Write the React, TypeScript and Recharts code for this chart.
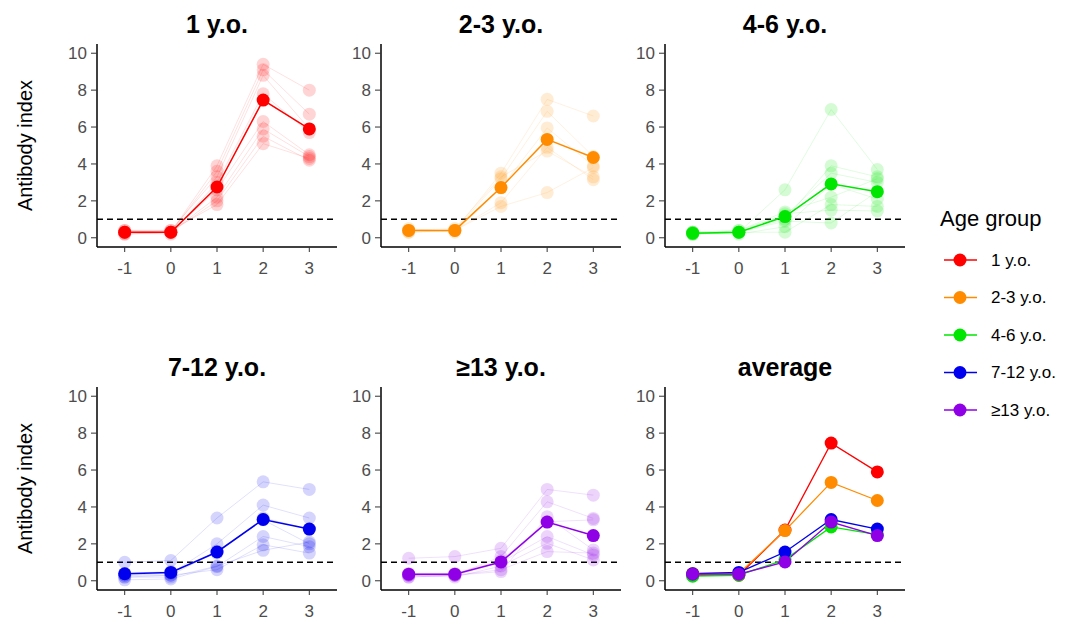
import React from 'react';
import { LineChart, Line, XAxis, YAxis, ReferenceLine } from 'recharts';

const timePoints = [-1, 0, 1, 2, 3];
const yTicks = [0, 2, 4, 6, 8, 10];
const threshold = 1;

const groupLabels = ['1 y.o.', '2-3 y.o.', '4-6 y.o.', '7-12 y.o.', '≥13 y.o.'];
const groupColors = ['#FF0000', '#FF8C00', '#00E600', '#0000EE', '#8F00E6'];

// individual subjects per age group, values at each time point
const age1Subjects = [
  [0.3, 0.3, 3.9, 9.4, 8.0],
  [0.2, 0.3, 3.6, 9.1, 6.7],
  [0.4, 0.4, 3.3, 8.8, 5.9],
  [0.3, 0.2, 3.0, 7.8, 5.7],
  [0.3, 0.3, 2.6, 6.3, 4.5],
  [0.2, 0.3, 2.2, 5.9, 4.4],
  [0.4, 0.3, 2.0, 5.5, 4.2],
  [0.3, 0.4, 1.8, 5.1, 4.3],
];
const age2Subjects = [
  [0.4, 0.4, 3.5, 7.5, 6.6],
  [0.3, 0.4, 3.2, 6.85, 4.4],
  [0.5, 0.3, 2.7, 5.95, 3.9],
  [0.4, 0.5, 3.3, 4.7, 3.3],
  [0.4, 0.4, 1.9, 4.9, 3.15],
  [0.3, 0.4, 1.7, 2.45, 3.8],
];
const age3Subjects = [
  [0.2, 0.3, 2.6, 6.95, 3.7],
  [0.3, 0.3, 1.0, 3.9, 3.3],
  [0.2, 0.4, 1.2, 3.5, 3.0],
  [0.3, 0.2, 0.6, 2.9, 2.1],
  [0.2, 0.3, 0.3, 1.8, 1.7],
  [0.3, 0.3, 1.3, 1.5, 1.45],
  [0.2, 0.3, 0.9, 0.8, 2.5],
  [0.3, 0.4, 1.4, 2.2, 3.2],
];
const age4Subjects = [
  [1.0, 1.1, 3.4, 5.36, 4.95],
  [0.3, 0.4, 2.0, 4.1, 3.4],
  [0.2, 0.3, 1.6, 3.3, 2.0],
  [0.05, 0.1, 0.77, 2.4, 1.85],
  [0.3, 0.3, 0.6, 1.95, 1.5],
  [0.2, 0.2, 0.8, 1.65, 2.1],
  [0.4, 0.5, 1.5, 3.4, 2.8],
];
const age5Subjects = [
  [1.22, 1.31, 1.76, 4.95, 4.64],
  [0.3, 0.3, 1.31, 4.28, 3.38],
  [0.3, 0.3, 0.5, 3.47, 1.67],
  [0.2, 0.3, 1.0, 2.4, 1.4],
  [0.3, 0.2, 0.8, 2.03, 1.13],
  [0.2, 0.3, 0.6, 1.58, 1.5],
  [0.4, 0.4, 1.1, 3.2, 3.3],
];

const age1Mean = [0.3, 0.3, 2.75, 7.46, 5.9];
const age2Mean = [0.4, 0.4, 2.72, 5.33, 4.35];
const age3Mean = [0.25, 0.3, 1.15, 2.92, 2.5];
const age4Mean = [0.38, 0.45, 1.56, 3.32, 2.8];
const age5Mean = [0.36, 0.36, 1.02, 3.18, 2.45];

const subjectsByGroup = [age1Subjects, age2Subjects, age3Subjects, age4Subjects, age5Subjects];
const meansByGroup = [age1Mean, age2Mean, age3Mean, age4Mean, age5Mean];

const FONT = '"Liberation Sans", Arial, sans-serif';
const PLOT_W = 240;
const PLOT_H = 203;
const Y_AXIS_W = 45;
const X_AXIS_H = 35;
const M_TOP = 5;
const M_RIGHT = 10;
const colLeft = [97, 381, 665];
const rowTop = [44, 387];

const tickStyle = { fill: '#4D4D4D', fontSize: 17, fontFamily: FONT };

function buildRows(subjects: number[][], mean: number[]) {
  return timePoints.map((t, i) => {
    const row: any = { t, mean: mean[i] };
    subjects.forEach((s, j) => (row['s' + j] = s[i]));
    return row;
  });
}

const averageRows = timePoints.map((t, i) => {
  const row: any = { t };
  meansByGroup.forEach((m, g) => (row['g' + g] = m[i]));
  return row;
});

function Panel({ left, top, data, children }: any) {
  return (
    <div style={{ position: 'absolute', left: left - Y_AXIS_W, top: top - M_TOP }}>
      <LineChart
        width={Y_AXIS_W + PLOT_W + M_RIGHT}
        height={M_TOP + PLOT_H + X_AXIS_H}
        data={data}
        margin={{ top: M_TOP, right: M_RIGHT, left: 0, bottom: 0 }}
      >
        <XAxis
          dataKey="t"
          type="number"
          domain={[-1.6, 3.6]}
          ticks={timePoints}
          height={X_AXIS_H}
          tick={tickStyle}
          tickSize={5}
          tickMargin={10}
          axisLine={{ stroke: '#000', strokeWidth: 1.5 }}
          tickLine={{ stroke: '#333' }}
        />
        <YAxis
          type="number"
          domain={[-0.5, 10.5]}
          ticks={yTicks}
          width={Y_AXIS_W}
          tick={tickStyle}
          tickSize={6}
          tickMargin={4}
          allowDataOverflow
          axisLine={{ stroke: '#000', strokeWidth: 1.5 }}
          tickLine={{ stroke: '#333' }}
        />
        <ReferenceLine y={threshold} stroke="#000" strokeWidth={1.5} strokeDasharray="6 4" />
        {children}
      </LineChart>
    </div>
  );
}

function groupLines(g: number) {
  const color = groupColors[g];
  const subjects = subjectsByGroup[g];
  return [
    ...subjects.map((_, j) => (
      <Line
        key={'s' + j}
        dataKey={'s' + j}
        stroke={color}
        strokeOpacity={0.12}
        strokeWidth={1}
        dot={{ r: 6.5, fill: color, fillOpacity: 0.17, stroke: 'none' }}
        activeDot={false}
        isAnimationActive={false}
      />
    )),
    <Line
      key="mean"
      dataKey="mean"
      stroke={color}
      strokeWidth={1.5}
      dot={{ r: 6.5, fill: color, fillOpacity: 1, stroke: 'none' }}
      activeDot={false}
      isAnimationActive={false}
    />,
  ];
}

export default function App() {
  const titles = [...groupLabels, 'average'];
  return (
    <div style={{ position: 'absolute', left: 0, top: 0, width: 1067, height: 621, background: '#fff', fontFamily: FONT }}>
      {groupLabels.map((_, g) => (
        <Panel
          key={g}
          left={colLeft[g % 3]}
          top={rowTop[Math.floor(g / 3)]}
          data={buildRows(subjectsByGroup[g], meansByGroup[g])}
        >
          {groupLines(g)}
        </Panel>
      ))}
      <Panel left={colLeft[2]} top={rowTop[1]} data={averageRows}>
        {groupColors.map((c, g) => (
          <Line
            key={'g' + g}
            dataKey={'g' + g}
            stroke={c}
            strokeWidth={1.3}
            dot={{ r: 6.5, fill: c, fillOpacity: 1, stroke: 'none' }}
            activeDot={false}
            isAnimationActive={false}
          />
        ))}
      </Panel>
      <svg width={1067} height={621} style={{ position: 'absolute', left: 0, top: 0, pointerEvents: 'none' }}>
        {titles.map((t, i) => (
          <text
            key={t}
            x={colLeft[i % 3] + PLOT_W / 2}
            y={rowTop[Math.floor(i / 3)] - 11}
            textAnchor="middle"
            fontSize={25}
            fontWeight="bold"
            fontFamily={FONT}
            fill="#000"
          >
            {t}
          </text>
        ))}
        {rowTop.map((top) => (
          <text
            key={top}
            transform={`translate(25, ${top + PLOT_H / 2}) rotate(-90)`}
            textAnchor="middle"
            dominantBaseline="central"
            fontSize={20}
            fontFamily={FONT}
            fill="#000"
          >
            Antibody index
          </text>
        ))}
        <text x={940} y={226} fontSize={22} fontFamily={FONT} fill="#000">
          Age group
        </text>
        {groupLabels.map((label, g) => {
          const y = 260 + g * 37.5;
          return (
            <g key={label}>
              <line x1={944} x2={977} y1={y} y2={y} stroke={groupColors[g]} strokeWidth={1.5} />
              <circle cx={960} cy={y} r={6.5} fill={groupColors[g]} />
              <text x={991} y={y} dominantBaseline="central" fontSize={17} fontFamily={FONT} fill="#000">
                {label}
              </text>
            </g>
          );
        })}
      </svg>
    </div>
  );
}
